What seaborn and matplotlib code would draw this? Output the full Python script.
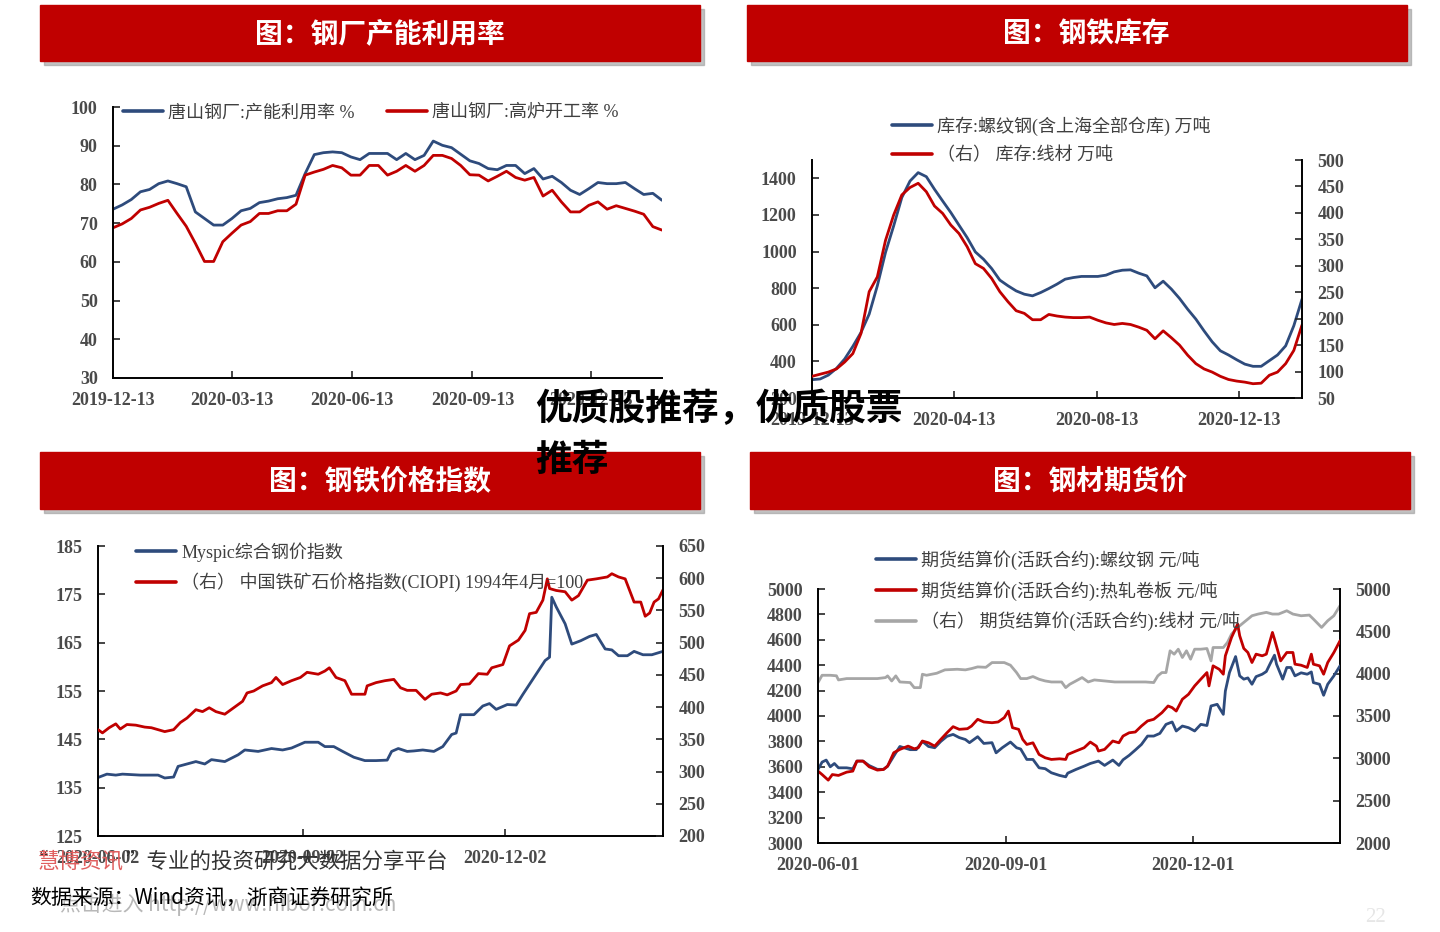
import pandas as pd
import numpy as np
import matplotlib
matplotlib.use("Agg")
import matplotlib.pyplot as plt
import seaborn as sns
from matplotlib.lines import Line2D
from matplotlib.patches import Rectangle

#%% data - panel 1 (weekly, from 2019-12-13)
p1_start = "2019-12-13"
util_rate = [73.6, 74.7, 76.1, 78.1, 78.7, 80.2, 80.9, 80.2, 79.4, 72.9,
             71.2, 69.5, 69.5, 71.2, 73.2, 73.8, 75.3, 75.7, 76.3, 76.6,
             77.2, 82.8, 87.7, 88.2, 88.4, 88.2, 87.1, 86.4, 88.0, 88.0,
             88.0, 86.4, 88.0, 86.4, 87.5, 91.2, 90.1, 89.5, 87.8, 86.1,
             85.4, 84.1, 83.8, 84.9, 84.9, 82.8, 84.1, 81.4, 82.1, 80.5,
             78.5, 77.4, 78.9, 80.5, 80.2, 80.2, 80.5, 78.9, 77.4, 77.7, 75.9]
furnace_rate = [68.8, 69.8, 71.2, 73.4, 74.1, 75.1, 75.9, 72.5, 69.2, 64.8,
                60.1, 60.1, 65.2, 67.4, 69.5, 70.4, 72.5, 72.5, 73.2, 73.2,
                74.9, 82.4, 83.2, 83.9, 84.9, 84.3, 82.4, 82.4, 84.9, 84.9,
                82.4, 83.4, 84.9, 83.4, 84.9, 87.5, 87.5, 86.7, 84.9, 82.5,
                82.4, 80.9, 82.1, 83.4, 81.8, 81.1, 81.8, 77.0, 78.5, 75.5,
                72.9, 72.9, 74.6, 75.5, 73.6, 74.5, 73.8, 73.1, 72.3, 69.1, 68.2]
p1_ticks = ["2019-12-13", "2020-03-13", "2020-06-13", "2020-09-13", "2020-12-13"]

#%% data - panel 2 (weekly, from 2019-12-13)
rebar_stock = [300, 304, 325, 362, 413, 482, 558, 658, 813, 995,
               1140, 1295, 1385, 1431, 1409, 1340, 1276, 1213, 1144, 1076,
               998, 958, 907, 844, 813, 785, 767, 758, 776, 798,
               822, 849, 858, 864, 864, 864, 871, 889, 898, 900,
               882, 867, 802, 838, 795, 744, 685, 631, 567, 507,
               458, 435, 409, 385, 373, 373, 404, 435, 485, 595, 740]
wire_stock = [91, 95, 99, 105, 118, 134, 172, 251, 279, 348,
              396, 434, 448, 456, 440, 413, 399, 377, 361, 336,
              304, 295, 276, 251, 232, 215, 210, 198, 198, 208,
              205, 203, 202, 202, 203, 197, 192, 189, 191, 189,
              184, 178, 162, 177, 164, 150, 131, 115, 105, 99,
              91, 85, 82, 80, 77, 78, 93, 99, 115, 140, 188]
p2_ticks = ["2019-12-13", "2020-04-13", "2020-08-13", "2020-12-13"]

#%% data - panel 3 (days since 2020-06-02)
p3_start = "2020-06-02"
myspic_days = [0, 4, 8, 11, 19, 27, 30, 34, 36, 44, 48, 51, 57, 63, 66, 72, 78, 83, 87, 93,
               99, 102, 106, 110, 115, 120, 125, 130, 132, 135, 139, 142, 146, 151, 155, 159,
               161, 163, 169, 173, 176, 179, 184, 188, 191, 194, 196, 199, 201, 203, 204, 206,
               210, 213, 217, 221, 224, 228, 231, 234, 238, 241, 245, 249, 254]
myspic_vals = [137.1, 137.8, 137.6, 137.8, 137.6, 137.6, 137.0, 137.2, 139.4, 140.4,
               139.9, 140.8, 140.4, 141.8, 142.8, 142.5, 143.1, 142.8, 143.2, 144.4,
               144.4, 143.5, 143.5, 142.5, 141.3, 140.6, 140.6, 140.7, 142.5, 143.1,
               142.5, 142.6, 142.8, 142.5, 143.5, 146.0, 146.3, 150.1, 150.1, 151.9,
               152.4, 151.2, 152.2, 152.1, 154.3, 156.4, 157.8, 159.9, 161.3, 162.0,
               174.4, 172.4, 168.9, 164.7, 165.4, 166.3, 166.7, 163.7, 163.5, 162.3,
               162.3, 163.2, 162.5, 162.5, 163.2]
ciopi_days = [0, 2, 5, 8, 10, 13, 17, 21, 24, 27, 30, 34, 37, 40, 44, 47, 50, 53, 57, 61,
              65, 67, 70, 74, 78, 80, 83, 87, 91, 94, 99, 102, 104, 107, 111, 114, 120, 121,
              125, 129, 133, 136, 139, 143, 147, 150, 154, 157, 161, 163, 167, 171, 175, 177,
              182, 185, 189, 192, 194, 197, 200, 202, 203, 206, 210, 213, 216, 220, 224, 229,
              231, 234, 237, 241, 244, 246, 248, 250, 252, 254]
ciopi_vals = [365, 360, 368, 374, 366, 373, 372, 369, 368, 365,
              362, 365, 376, 383, 396, 393, 399, 393, 389, 399,
              409, 422, 425, 433, 438, 446, 435, 441, 446, 454,
              451, 456, 461, 446, 441, 420, 420, 433, 438, 441,
              443, 430, 426, 426, 412, 420, 422, 419, 425, 435,
              436, 452, 451, 461, 466, 495, 504, 519, 545, 547,
              566, 599, 584, 581, 579, 566, 573, 597, 599, 602,
              607, 602, 599, 563, 563, 541, 546, 563, 568, 582]
p3_ticks = ["2020-06-02", "2020-09-02", "2020-12-02"]

#%% data - panel 4 (days since 2020-06-01)
p4_start = "2020-06-01"
rb_days = [0, 2, 4, 6, 8, 10, 14, 17, 19, 22, 25, 29, 32, 34, 38, 40, 45, 48, 51, 54,
           57, 60, 63, 66, 69, 72, 74, 78, 81, 85, 87, 90, 94, 97, 99, 102, 105, 108, 111, 114,
           118, 121, 122, 126, 130, 133, 137, 140, 144, 147, 149, 152, 155, 158, 161, 164, 167,
           170, 173, 175, 178, 181, 184, 187, 190, 192, 195, 198, 199, 201, 204, 206, 208, 210,
           212, 214, 217, 219, 221, 223, 224, 227, 229, 231, 233, 236, 239, 241, 242, 245,
           247, 249, 252, 255]
rb_vals = [3579, 3637, 3653, 3600, 3626, 3592, 3592, 3584, 3645, 3645,
           3610, 3580, 3580, 3605, 3710, 3760, 3735, 3735, 3800, 3760,
           3750, 3800, 3840, 3855, 3830, 3815, 3790, 3837, 3784, 3790,
           3710, 3750, 3795, 3750, 3740, 3658, 3658, 3592, 3585, 3553,
           3532, 3521, 3550, 3579, 3605, 3626, 3645, 3611, 3653, 3611,
           3655, 3690, 3732, 3776, 3842, 3842, 3863, 3934, 3953, 3882,
           3921, 3908, 3882, 3934, 3925, 4079, 4092, 4013, 4197, 4342,
           4468, 4316, 4290, 4300, 4250, 4310, 4329, 4350, 4416, 4479,
           4408, 4290, 4382, 4382, 4316, 4340, 4329, 4347, 4263, 4250,
           4163, 4250, 4316, 4395]
hc_days = [0, 2, 5, 7, 10, 14, 17, 19, 22, 25, 29, 32, 34, 37, 40, 44, 47, 49, 51, 54,
           57, 60, 63, 66, 69, 73, 75, 78, 81, 85, 88, 91, 93, 95, 98, 100, 102, 105, 108, 111,
           114, 118, 121, 122, 126, 130, 133, 136, 137, 140, 144, 147, 149, 152, 155, 158, 161,
           164, 168, 171, 173, 175, 178, 181, 184, 187, 190, 191, 193, 196, 198, 199, 202, 205,
           206, 208, 210, 212, 214, 217, 219, 222, 223, 226, 229, 232, 233, 236, 239, 241,
           242, 245, 247, 249, 252, 255]
hc_vals = [3566, 3539, 3495, 3539, 3532, 3558, 3566, 3645, 3645, 3600,
           3574, 3579, 3605, 3711, 3737, 3763, 3742, 3750, 3803, 3789,
           3763, 3816, 3868, 3916, 3895, 3900, 3921, 3974, 3953, 3947,
           3953, 3987, 4039, 3908, 3895, 3816, 3776, 3789, 3697, 3671,
           3658, 3663, 3658, 3697, 3724, 3750, 3795, 3763, 3724, 3737,
           3803, 3789, 3842, 3868, 3874, 3921, 3961, 3974, 4026, 4079,
           4066, 4039, 4132, 4171, 4237, 4290, 4342, 4237, 4395, 4368,
           4329, 4474, 4618, 4724, 4632, 4532, 4500, 4421, 4487, 4474,
           4487, 4658, 4605, 4434, 4500, 4500, 4408, 4400, 4382, 4487,
           4408, 4395, 4329, 4421, 4500, 4592]
wr_days = [0, 2, 6, 9, 10, 14, 22, 29, 33, 34, 36, 38, 40, 45, 47, 50, 51, 53, 58, 62,
           68, 72, 75, 78, 82, 85, 91, 94, 97, 99, 102, 105, 108, 111, 114, 119, 121, 123,
           126, 129, 132, 135, 140, 145, 152, 160, 164, 166, 168, 170, 172, 174, 176, 178,
           180, 182, 184, 187, 190, 192, 193, 198, 200, 202, 205, 209, 212, 215, 219, 222,
           225, 229, 232, 236, 240, 242, 246, 249, 252, 255]
wr_vals = [3895, 3981, 3981, 3975, 3926, 3942, 3942, 3942, 3954, 3974,
           3914, 3974, 3902, 3895, 3835, 3835, 3993, 3981, 4005, 4045,
           4052, 4045, 4060, 4080, 4075, 4131, 4131, 4100, 4013, 3942,
           3942, 3966, 3934, 3914, 3902, 3902, 3835, 3875, 3914, 3954,
           3902, 3926, 3914, 3902, 3902, 3902, 3895, 3974, 4013, 4013,
           4270, 4230, 4289, 4191, 4270, 4171, 4289, 4289, 4297, 4151,
           4309, 4309, 4368, 4467, 4546, 4625, 4684, 4704, 4724, 4704,
           4704, 4743, 4704, 4684, 4692, 4645, 4546, 4625, 4684, 4803]
p4_ticks = ["2020-06-01", "2020-09-01", "2020-12-01"]

#%% style

sns.set_style("ticks")
plt.rcParams['font.family'] = ['Liberation Serif', 'Noto Sans CJK SC', 'DejaVu Sans']
plt.rcParams['axes.unicode_minus'] = False

BLUE = "#2E4B7C"
RED = "#C00000"
GRAY = "#A6A6A6"
TXT = "#404040"
TICK = "#4a4a4a"
LW = 2.0
CJK = ['Noto Sans CJK SC', 'DejaVu Sans']
LEGFONT = {'family': ['Liberation Serif', 'Noto Sans CJK SC'], 'size': 13}

W, H = 1440, 932
fig = plt.figure(figsize=(14.4, 9.32), dpi=100)


def fx(px):
    return px / W


def fy(py):
    return 1 - py / H


def make_ax(l, t, r, b):
    return fig.add_axes([fx(l), fy(b), (r - l) / W, (b - t) / H])


def tick_style(ax, axis):
    ax.tick_params(axis=axis, direction="in", length=5, width=1.2, labelsize=13,
                   labelcolor=TICK, pad=11 if axis == "y" else 10)
    labels = ax.get_yticklabels() if axis == "y" else ax.get_xticklabels()
    for t in labels:
        t.set_fontweight("bold")


def style(ax):
    ax.spines["top"].set_visible(False)
    ax.spines["right"].set_visible(False)
    for s in ["left", "bottom"]:
        ax.spines[s].set_linewidth(1.4)
        ax.spines[s].set_color("black")
    tick_style(ax, "x")
    tick_style(ax, "y")
    ax.set_xlabel("")
    ax.set_ylabel("")


def style_right(ax2):
    for s in ["left", "bottom", "top"]:
        ax2.spines[s].set_visible(False)
    ax2.spines["right"].set_linewidth(1.4)
    ax2.spines["right"].set_color("black")
    tick_style(ax2, "y")
    ax2.set_ylabel("")


def set_dates(ax, ticks, first, last):
    td = pd.to_datetime(ticks)
    ax.set_xticks(td)
    ax.set_xticklabels(ticks, fontweight="bold")
    ax.set_xlim(pd.Timestamp(first), pd.Timestamp(last))


def legend(ax, handles, labels, x, y, ncol=1, colsp=1.8, spacing=0.62):
    leg = ax.legend(handles, labels, loc="upper left", bbox_to_anchor=(fx(x), fy(y)),
                    bbox_transform=fig.transFigure, frameon=False, ncol=ncol,
                    handlelength=2.2, handletextpad=0.3, borderpad=0, borderaxespad=0,
                    labelspacing=spacing, columnspacing=colsp, prop=LEGFONT)
    for t in leg.get_texts():
        t.set_color(TXT)
    return leg


def banner(l, t, r, b, text, tx):
    fig.patches.append(Rectangle((fx(l + 4), fy(b + 4)), (r - l) / W, (b - t) / H,
                                 transform=fig.transFigure, color="#9a9a9a", alpha=0.6, zorder=0))
    fig.patches.append(Rectangle((fx(l), fy(b)), (r - l) / W, (b - t) / H,
                                 transform=fig.transFigure, color=RED, zorder=1))
    fig.text(fx(tx), fy((t + b) / 2 + 1), text, color="white", fontsize=20,
             fontweight="bold", family=CJK, ha="center", va="center")


#%% panel 1
banner(40, 5, 700, 61, "图：钢厂产能利用率", 380)
d1 = pd.date_range(p1_start, periods=len(util_rate), freq="7D")
ax1 = make_ax(113, 107, 662, 378)
sns.lineplot(x=d1, y=util_rate, ax=ax1, color=BLUE, lw=LW)
sns.lineplot(x=d1, y=furnace_rate, ax=ax1, color=RED, lw=LW)
ax1.set_ylim(30, 100)
ax1.set_yticks(range(30, 101, 10))
set_dates(ax1, p1_ticks, d1[0], d1[-1])
style(ax1)
legend(ax1, [Line2D([], [], color=BLUE, lw=2.6), Line2D([], [], color=RED, lw=2.6)],
       ["唐山钢厂:产能利用率 %", "唐山钢厂:高炉开工率 %"], 123, 104, ncol=2, colsp=1.8)

#%% panel 2
banner(747, 5, 1407, 61, "图：钢铁库存", 1086)
d2 = pd.date_range(p1_start, periods=len(rebar_stock), freq="7D")
ax2 = make_ax(812, 160, 1302, 398)
sns.lineplot(x=d2, y=rebar_stock, ax=ax2, color=BLUE, lw=LW)
ax2.set_ylim(200, 1500)
ax2.set_yticks(range(200, 1401, 200))
set_dates(ax2, p2_ticks, d2[0], d2[-1])
style(ax2)
ax2r = ax2.twinx()
sns.lineplot(x=d2, y=wire_stock, ax=ax2r, color=RED, lw=LW)
ax2r.set_ylim(50, 500)
ax2r.set_yticks(range(50, 501, 50))
style_right(ax2r)
legend(ax2r, [Line2D([], [], color=BLUE, lw=2.6), Line2D([], [], color=RED, lw=2.6)],
       ["库存:螺纹钢(含上海全部仓库) 万吨", "（右） 库存:线材 万吨"], 892, 116)

#%% panel 3
banner(40, 452, 700, 509, "图：钢铁价格指数", 380)
d3a = pd.Timestamp(p3_start) + pd.to_timedelta(myspic_days, unit="D")
d3b = pd.Timestamp(p3_start) + pd.to_timedelta(ciopi_days, unit="D")
ax3 = make_ax(98, 546, 663, 836)
sns.lineplot(x=d3a, y=myspic_vals, ax=ax3, color=BLUE, lw=LW)
ax3.set_ylim(125, 185)
ax3.set_yticks(range(125, 186, 10))
set_dates(ax3, p3_ticks, d3a[0], pd.Timestamp(p3_start) + pd.Timedelta(days=254))
style(ax3)
ax3r = ax3.twinx()
sns.lineplot(x=d3b, y=ciopi_vals, ax=ax3r, color=RED, lw=LW)
ax3r.set_ylim(200, 650)
ax3r.set_yticks(range(200, 651, 50))
style_right(ax3r)
legend(ax3r, [Line2D([], [], color=BLUE, lw=2.6), Line2D([], [], color=RED, lw=2.6)],
       ["Myspic综合钢价指数", "（右） 中国铁矿石价格指数(CIOPI) 1994年4月=100"], 136, 542)

#%% panel 4
banner(750, 452, 1410, 509, "图：钢材期货价", 1090)
d4a = pd.Timestamp(p4_start) + pd.to_timedelta(rb_days, unit="D")
d4b = pd.Timestamp(p4_start) + pd.to_timedelta(hc_days, unit="D")
d4c = pd.Timestamp(p4_start) + pd.to_timedelta(wr_days, unit="D")
ax4 = make_ax(818, 589, 1340, 843)
ax4r = ax4.twinx()
sns.lineplot(x=d4c, y=wr_vals, ax=ax4r, color=GRAY, lw=LW)
ax4.set_zorder(ax4r.get_zorder() + 1)
ax4.patch.set_visible(False)
sns.lineplot(x=d4a, y=rb_vals, ax=ax4, color=BLUE, lw=LW)
sns.lineplot(x=d4b, y=hc_vals, ax=ax4, color=RED, lw=LW)
ax4.set_ylim(3000, 5000)
ax4.set_yticks(range(3000, 5001, 200))
set_dates(ax4, p4_ticks, d4a[0], d4a[-1])
style(ax4)
ax4r.set_ylim(2000, 5000)
ax4r.set_yticks(range(2000, 5001, 500))
style_right(ax4r)
legend(ax4, [Line2D([], [], color=BLUE, lw=2.6), Line2D([], [], color=RED, lw=2.6),
             Line2D([], [], color=GRAY, lw=2.6)],
       ["期货结算价(活跃合约):螺纹钢 元/吨", "期货结算价(活跃合约):热轧卷板 元/吨",
        "（右） 期货结算价(活跃合约):线材 元/吨"], 876, 550)

#%% overlay texts
fig.text(fx(60), fy(905), "点击进入 http://www.hibor.com.cn", color="#9a9a9a", alpha=0.7,
         fontsize=15, family=['Noto Sans CJK SC', 'DejaVu Sans'], va="center", zorder=5)
fig.text(fx(27), fy(862), "“", color="#333333", fontsize=15.5, family=CJK, va="center", zorder=6)
fig.text(fx(38), fy(862), "慧博资讯", color="#E06060", fontsize=15.5, family=CJK, va="center", zorder=6)
fig.text(fx(125), fy(862), "”专业的投资研究大数据分享平台", color="#333333", fontsize=15.5,
         family=CJK, va="center", zorder=6)
fig.text(fx(30), fy(899), "数据来源：Wind资讯，浙商证券研究所", color="black", fontsize=15,
         family=CJK, va="center", zorder=6)
fig.text(fx(1365), fy(918), "22", color="#e6e6e6", fontsize=15, va="center", zorder=6)

fig.text(fx(535), fy(410), "优质股推荐，优质股票", color="black", fontsize=26.5,
         fontweight="heavy", family=CJK, va="center", zorder=10)
fig.text(fx(535), fy(460), "推荐", color="black", fontsize=26.5,
         fontweight="heavy", family=CJK, va="center", zorder=10)

fig.savefig("out.png", dpi=100)
